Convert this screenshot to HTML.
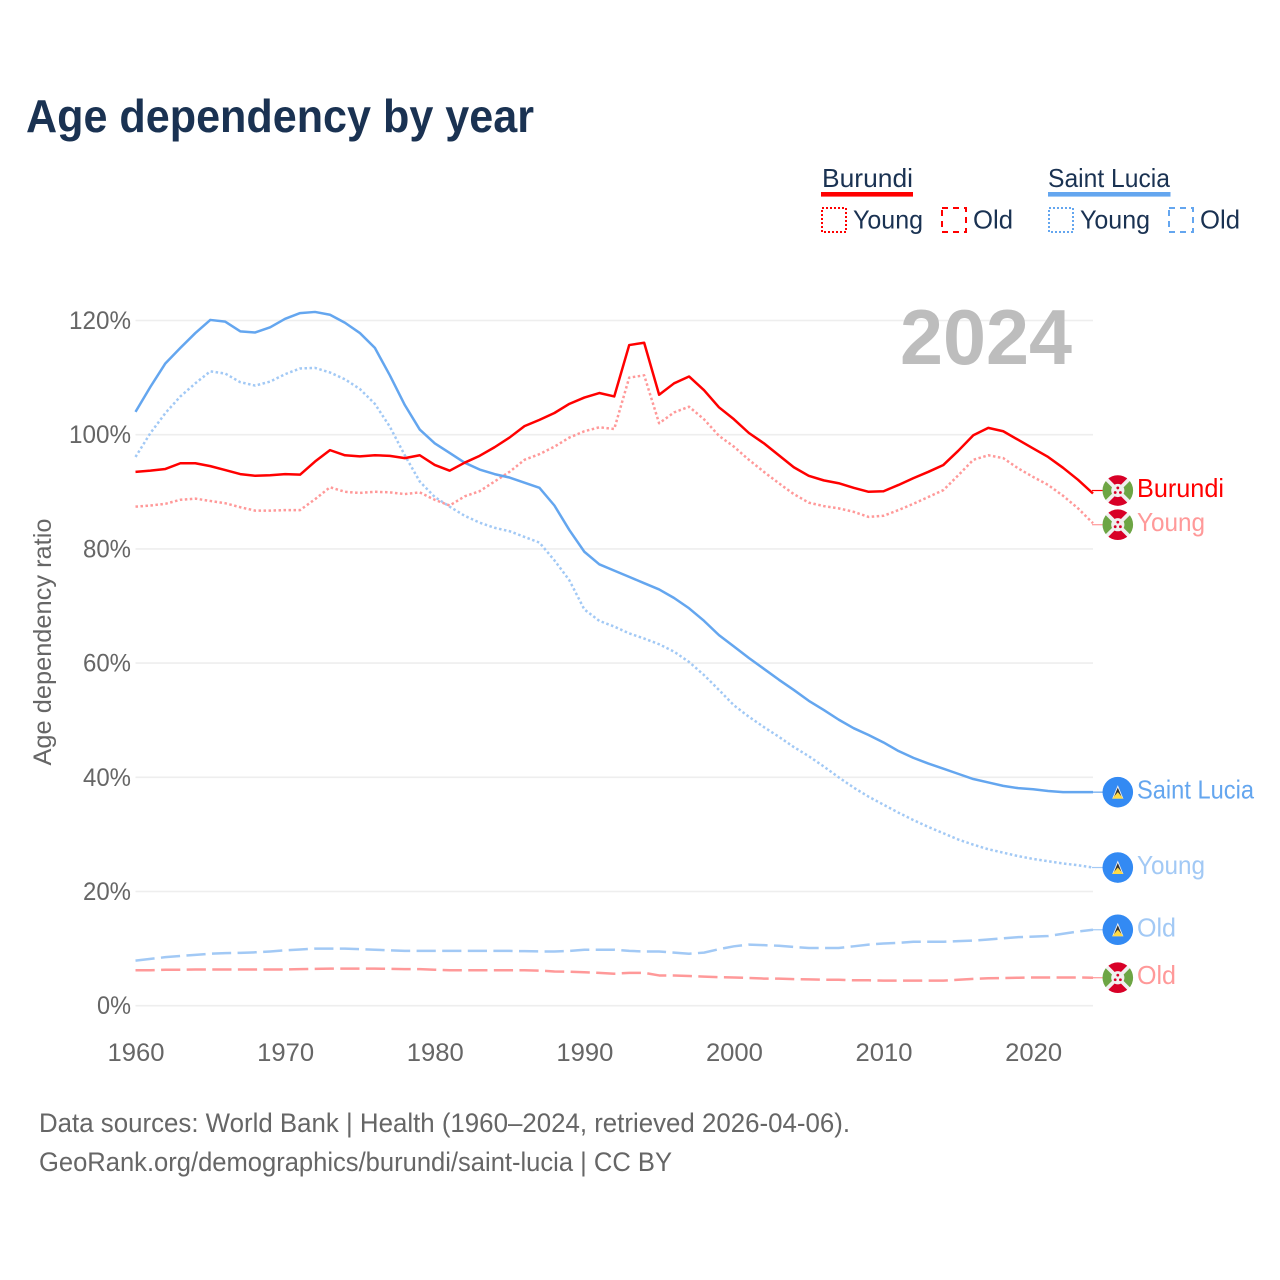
<!DOCTYPE html>
<html lang="en">
<head>
<meta charset="utf-8">
<title>Age dependency by year</title>
<style>
  html, body { margin: 0; padding: 0; background: #fff; }
  svg { display: block; font-family: "Liberation Sans", sans-serif; }
</style>
</head>
<body>
<svg id="chart" xmlns="http://www.w3.org/2000/svg" width="1280" height="1280" viewBox="0 0 1280 1280">
  <defs>
    <clipPath id="flag-clip"><circle cx="0" cy="0" r="15.3"/></clipPath>
    <g id="flag-burundi" clip-path="url(#flag-clip)">
      <circle r="15.5" fill="#f0f0f0"/>
      <path d="M0 0L-20 -20H20Z" fill="#d80027" transform="translate(0,-2.6)"/>
      <path d="M0 0L-20 20H20Z" fill="#d80027" transform="translate(0,2.6)"/>
      <path d="M0 0L-20 -20V20Z" fill="#6da544" transform="translate(-2.6,0)"/>
      <path d="M0 0L20 -20V20Z" fill="#6da544" transform="translate(2.6,0)"/>
      <circle r="6.6" fill="#f0f0f0"/>
      <circle cx="0" cy="-2.6" r="1.4" fill="#d80027"/>
      <circle cx="-2.6" cy="2" r="1.4" fill="#d80027"/>
      <circle cx="2.6" cy="2" r="1.4" fill="#d80027"/>
    </g>
    <g id="flag-saint-lucia" clip-path="url(#flag-clip)">
      <circle r="15.5" fill="#338af3"/>
      <path d="M0 -7L5.6 6.5H-5.6Z" fill="#f0f0f0"/>
      <path d="M0 -4.5L4 5H-4Z" fill="#333"/>
      <path d="M0 0L5.6 6.5H-5.6Z" fill="#ffda44"/>
    </g>
  </defs>

  <text x="26" y="132" font-size="46" font-weight="700" fill="#1a3252" textLength="508" lengthAdjust="spacingAndGlyphs">Age dependency by year</text>

  <g>
    <text x="822" y="187" font-size="26" fill="#1a3252" textLength="91" lengthAdjust="spacingAndGlyphs">Burundi</text>
    <rect x="821" y="192" width="92" height="4.6" fill="#ff0000"/>
    <rect x="822" y="208" width="24" height="24" fill="none" stroke="#ff0000" stroke-width="2" stroke-dasharray="2 2"/>
    <text x="853" y="228.5" font-size="26" fill="#1a3252" textLength="70" lengthAdjust="spacingAndGlyphs">Young</text>
    <rect x="942" y="208" width="24" height="24" fill="none" stroke="#ff0000" stroke-width="2" stroke-dasharray="6 5"/>
    <text x="973" y="228.5" font-size="26" fill="#1a3252" textLength="40" lengthAdjust="spacingAndGlyphs">Old</text>

    <text x="1048" y="187" font-size="26" fill="#1a3252" textLength="122" lengthAdjust="spacingAndGlyphs">Saint Lucia</text>
    <rect x="1048" y="192" width="122.5" height="4.6" fill="#64a6ef"/>
    <rect x="1049" y="208" width="24" height="24" fill="none" stroke="#64a6ef" stroke-width="2" stroke-dasharray="2 2"/>
    <text x="1080" y="228.5" font-size="26" fill="#1a3252" textLength="70" lengthAdjust="spacingAndGlyphs">Young</text>
    <rect x="1169" y="208" width="24" height="24" fill="none" stroke="#64a6ef" stroke-width="2" stroke-dasharray="6 5"/>
    <text x="1200" y="228.5" font-size="26" fill="#1a3252" textLength="40" lengthAdjust="spacingAndGlyphs">Old</text>
  </g>

  <g id="grid"></g>
  <g id="y-ticks"></g>
  <g id="x-ticks"></g>

  <text x="900" y="364" font-size="78" font-weight="700" fill="#bdbdbd" textLength="172" lengthAdjust="spacingAndGlyphs">2024</text>

  <text transform="translate(51,642) rotate(-90)" text-anchor="middle" font-size="25" fill="#666666" textLength="247" lengthAdjust="spacingAndGlyphs">Age dependency ratio</text>

  <g id="series"></g>
  <g id="end-labels"></g>

  <text x="39" y="1132" font-size="26.5" fill="#666666" textLength="811" lengthAdjust="spacingAndGlyphs">Data sources: World Bank | Health (1960–2024, retrieved 2026-04-06).</text>
  <text x="39" y="1171" font-size="26.5" fill="#666666" textLength="633" lengthAdjust="spacingAndGlyphs">GeoRank.org/demographics/burundi/saint-lucia | CC BY</text>
</svg>

<script>
const firstYear = 1960;
const lastYear = 2024;
const yTickValues = [0, 20, 40, 60, 80, 100, 120];
const xTickValues = [1960, 1970, 1980, 1990, 2000, 2010, 2020];

const burundiTotal = [93.5,93.7,94,95,95,94.5,93.8,93.1,92.8,92.9,93.1,93,95.3,97.3,96.4,96.2,96.4,96.3,95.9,96.4,94.7,93.7,95.1,96.3,97.8,99.5,101.5,102.6,103.8,105.4,106.5,107.3,106.7,115.7,116.1,107,109,110.2,107.8,104.8,102.7,100.3,98.5,96.4,94.3,92.8,92,91.5,90.7,90,90.1,91.2,92.4,93.5,94.7,97.2,99.9,101.2,100.6,99.1,97.6,96.1,94.2,92.1,89.7];
const burundiYoung = [87.4,87.6,87.9,88.6,88.8,88.4,88,87.3,86.7,86.7,86.8,86.8,88.7,90.8,90,89.8,90,89.9,89.6,89.9,88.6,87.6,89.2,90.1,91.8,93.5,95.6,96.6,97.9,99.5,100.6,101.3,101,110,110.4,102,103.9,104.9,102.7,99.8,97.9,95.6,93.5,91.5,89.6,88.1,87.5,87.1,86.5,85.6,85.8,86.8,87.9,89.1,90.3,92.9,95.6,96.4,95.9,94.1,92.6,91.2,89.3,87.1,84.5];
const burundiOld = [6.2,6.2,6.3,6.3,6.35,6.35,6.35,6.35,6.35,6.35,6.35,6.4,6.45,6.5,6.5,6.5,6.5,6.45,6.4,6.4,6.3,6.2,6.2,6.2,6.2,6.2,6.2,6.15,6,5.95,5.85,5.75,5.6,5.75,5.75,5.3,5.3,5.2,5.1,5,4.95,4.85,4.75,4.75,4.65,4.6,4.55,4.55,4.45,4.45,4.4,4.4,4.4,4.4,4.4,4.55,4.7,4.8,4.85,4.9,4.95,4.95,4.95,4.95,4.9];
const luciaTotal = [104,108.4,112.5,115.2,117.8,120.1,119.8,118.1,117.9,118.8,120.3,121.3,121.5,121,119.6,117.8,115.2,110.4,105.2,100.9,98.5,96.8,95.1,93.9,93.1,92.5,91.6,90.7,87.6,83.3,79.5,77.3,76.2,75.1,74,72.9,71.4,69.6,67.4,64.9,62.9,60.9,59,57.1,55.3,53.4,51.8,50.1,48.6,47.4,46.1,44.6,43.4,42.4,41.5,40.6,39.7,39.1,38.5,38.1,37.9,37.6,37.4,37.4,37.4];
const luciaYoung = [96.1,100.3,103.8,106.7,109,111.1,110.7,109.2,108.6,109.3,110.6,111.6,111.7,110.9,109.7,108,105.4,101.4,96.4,91.8,89.1,87.4,85.8,84.6,83.7,83.1,82.1,81.1,78,74.5,69.4,67.4,66.4,65.2,64.3,63.3,62,60.2,57.9,55.3,52.6,50.6,48.8,47.1,45.3,43.7,41.9,40,38.2,36.6,35.2,33.8,32.5,31.3,30.2,29.1,28.2,27.4,26.8,26.2,25.7,25.3,24.9,24.6,24.2];
const luciaOld = [7.9,8.2,8.5,8.7,8.9,9.1,9.2,9.25,9.35,9.5,9.7,9.85,10,10,10,9.9,9.8,9.7,9.6,9.6,9.6,9.6,9.6,9.6,9.6,9.6,9.55,9.5,9.5,9.6,9.8,9.8,9.8,9.6,9.5,9.5,9.3,9.1,9.3,9.9,10.4,10.7,10.6,10.5,10.3,10.1,10.1,10.1,10.4,10.7,10.9,11,11.2,11.2,11.2,11.3,11.4,11.6,11.8,12,12.1,12.2,12.6,13,13.3];

const SVG_NS = 'http://www.w3.org/2000/svg';

function xScale(year) {
  return 135.5 + (year - firstYear) * (1093 - 135.5) / (lastYear - firstYear);
}
function yScale(value) {
  return 1005.7 - value * 5.71;
}
function make(tag, parentId) {
  const el = document.createElementNS(SVG_NS, tag);
  document.getElementById(parentId).appendChild(el);
  return el;
}

yTickValues.forEach(function (v) {
  const line = make('line', 'grid');
  
  
  line.setAttribute('x1', xScale(firstYear));
  line.setAttribute('x2', xScale(lastYear));
  line.setAttribute('y1', yScale(v));
  line.setAttribute('y2', yScale(v));
  line.setAttribute('stroke', '#eeeeee');
  line.setAttribute('stroke-width', '1.6');

  const label = make('text', 'y-ticks');
  const text = v + '%';
  
  
  label.setAttribute('x', 131 - (34 + 14 * (text.length - 2)));
  label.setAttribute('y', yScale(v) + 8.5);
  label.setAttribute('font-size', '25');
  label.setAttribute('fill', '#666666');
  label.setAttribute('textLength', 34 + 14 * (text.length - 2));
  label.setAttribute('lengthAdjust', 'spacingAndGlyphs');
  label.textContent = text;
});

xTickValues.forEach(function (year) {
  const label = make('text', 'x-ticks');
  
  
  label.setAttribute('x', xScale(year) - 28);
  label.setAttribute('y', 1061);
  label.setAttribute('font-size', '25');
  label.setAttribute('fill', '#666666');
  label.setAttribute('textLength', '57');
  label.setAttribute('lengthAdjust', 'spacingAndGlyphs');
  label.textContent = String(year);
});

function drawSeries(name, values, color, dash) {
  const path = make('path', 'series');
  const d = values.map(function (v, i) {
    return (i ? 'L' : 'M') + xScale(firstYear + i).toFixed(2) + ' ' + yScale(v).toFixed(2);
  }).join('');
  
  
  path.setAttribute('d', d);
  path.setAttribute('fill', 'none');
  path.setAttribute('stroke', color);
  path.setAttribute('stroke-width', '2.5');
  path.setAttribute('stroke-linejoin', 'round');
  if (dash) {
    path.setAttribute('stroke-dasharray', dash);
  }
}

function drawEndLabel(name, values, text, width, color, flag, nudge) {
  const cy = yScale(values[values.length - 1]) + nudge;

  const stub = make('line', 'end-labels');
  
  
  stub.setAttribute('x1', 1092);
  stub.setAttribute('x2', 1104);
  stub.setAttribute('y1', cy);
  stub.setAttribute('y2', cy);
  stub.setAttribute('stroke', color);
  stub.setAttribute('stroke-width', '1.2');

  const icon = make('use', 'end-labels');
  
  
  icon.setAttribute('href', '#' + flag);
  icon.setAttribute('transform', 'translate(1117.8,' + cy + ')');

  const label = make('text', 'end-labels');
  
  
  label.setAttribute('x', 1137);
  label.setAttribute('y', cy + 6.5);
  label.setAttribute('font-size', '26');
  label.setAttribute('fill', color);
  label.setAttribute('textLength', width);
  label.setAttribute('lengthAdjust', 'spacingAndGlyphs');
  label.textContent = text;
}

drawSeries('line-saint-lucia-young', luciaYoung, '#a2c9f5', '2.5 2.5');
drawSeries('line-saint-lucia-old', luciaOld, '#a2c9f5', '19.2 6.4');
drawSeries('line-burundi-young', burundiYoung, '#ff9999', '2.5 2.5');
drawSeries('line-burundi-old', burundiOld, '#ff9999', '19.2 6.4');
drawSeries('line-saint-lucia-total', luciaTotal, '#64a6ef', '');
drawSeries('line-burundi-total', burundiTotal, '#ff0000', '');

drawEndLabel('end-burundi-total', burundiTotal, 'Burundi', 87, '#ff0000', 'flag-burundi', -3);
drawEndLabel('end-burundi-young', burundiYoung, 'Young', 68, '#ff9999', 'flag-burundi', 1.5);
drawEndLabel('end-saint-lucia-total', luciaTotal, 'Saint Lucia', 117, '#64a6ef', 'flag-saint-lucia', 0);
drawEndLabel('end-saint-lucia-young', luciaYoung, 'Young', 68, '#a2c9f5', 'flag-saint-lucia', 0);
drawEndLabel('end-saint-lucia-old', luciaOld, 'Old', 39, '#a2c9f5', 'flag-saint-lucia', 0);
drawEndLabel('end-burundi-old', burundiOld, 'Old', 39, '#ff9999', 'flag-burundi', 0);
</script>
</body>
</html>
